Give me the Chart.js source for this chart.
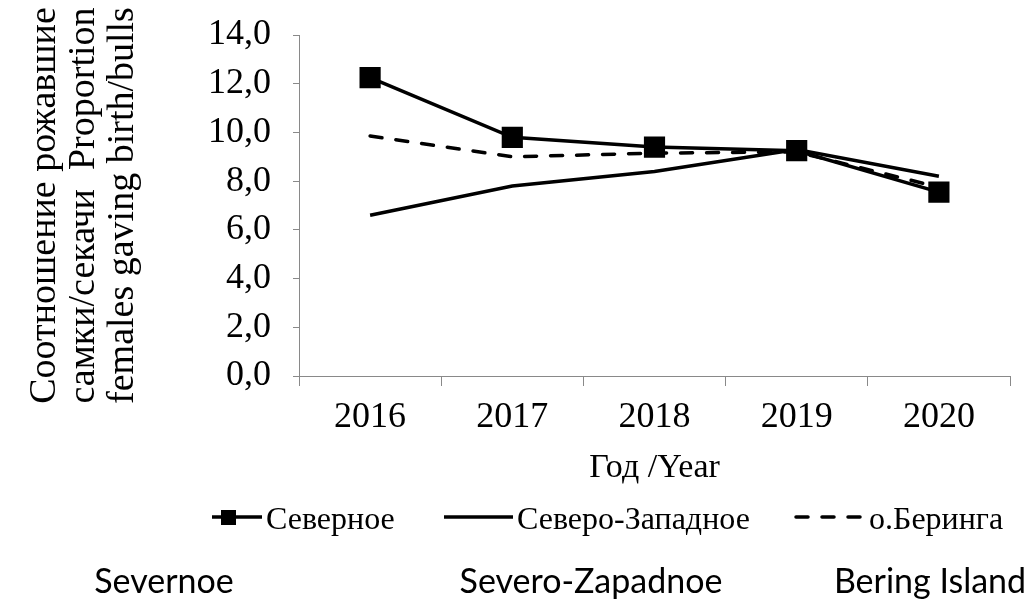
<!DOCTYPE html>
<html lang="ru">
<head>
  <meta charset="UTF-8" />
  <title>Соотношение рожавшие самки/секачи</title>
  <script src="https://cdn.jsdelivr.net/npm/chart.js"></script>
  <style>
    html, body { margin: 0; padding: 0; background: #fff; }
    #wrap { width: 1031px; height: 607px; position: relative; }
  </style>
</head>
<body>
  <div id="wrap"><canvas id="chart"></canvas></div>

  <script>
    // data
    const years = ['2016', '2017', '2018', '2019', '2020'];
    const severnoe = [12.25, 9.8, 9.4, 9.25, 7.55];
    const severoZapadnoe = [6.6, 7.8, 8.4, 9.3, 8.2];
    const beringa = [9.85, 9.0, 9.15, 9.2, 7.75];
    const seriesLabels = ['Северное', 'Северо-Западное', 'о.Беринга'];
    const yTitle = ['Соотношение рожавшие', 'самки/секачи  Proportion', 'females gaving birth/bulls'];
    const xTitle = 'Год /Year';
    const bottomLabels = ['Severnoe', 'Severo-Zapadnoe', 'Bering Island'];

    const serif = "'Liberation Serif', 'Times New Roman', serif";
    const axisGray = '#898989';

    // legend row + english names under the chart
    const legendPos = [
      { x0: 212, x1: 262, tx: 266 },
      { x0: 444, x1: 513, tx: 517 },
      { x0: 794, x1: 866, tx: 869 }
    ];
    const bottomCenters = [164, 591, 930];

    const extraText = {
      id: 'extraText',
      afterDraw(chart) {
        const ctx = chart.ctx;
        const ly = 517;
        ctx.save();
        chart.data.datasets.forEach((ds, i) => {
          const p = legendPos[i];
          ctx.strokeStyle = ds.borderColor;
          ctx.lineWidth = ds.borderWidth;
          ctx.lineCap = ds.borderCapStyle || 'butt';
          ctx.setLineDash(ds.borderDash || []);
          ctx.beginPath();
          ctx.moveTo(p.x0 + (ds.borderDash ? 2 : 0), ly);
          ctx.lineTo(p.x1, ly);
          ctx.stroke();
          ctx.setLineDash([]);
          if (ds.pointRadius > 0) {
            ctx.fillStyle = ds.pointBackgroundColor;
            ctx.fillRect(p.x0 + 9, ly - 7, 15, 15);
          }
          ctx.fillStyle = '#000';
          ctx.font = "32px " + serif;
          ctx.textAlign = 'left';
          ctx.textBaseline = 'middle';
          ctx.fillText(ds.label, p.tx, ly + 4);
        });

        ctx.font = "34px Lato, 'Open Sans', sans-serif";
        ctx.textAlign = 'center';
        ctx.textBaseline = 'middle';
        bottomLabels.forEach((t, i) => ctx.fillText(t, bottomCenters[i], 582));
        ctx.restore();
      }
    };

    new Chart(document.getElementById('chart').getContext('2d'), {
      type: 'line',
      data: {
        labels: years,
        datasets: [
          {
            label: seriesLabels[0],
            data: severnoe,
            borderColor: '#000',
            borderWidth: 3.5,
            pointStyle: 'rect',
            pointRadius: 12.5,
            pointBackgroundColor: '#000',
            pointBorderColor: '#000',
            tension: 0
          },
          {
            label: seriesLabels[1],
            data: severoZapadnoe,
            borderColor: '#000',
            borderWidth: 3.5,
            pointRadius: 0,
            tension: 0
          },
          {
            label: seriesLabels[2],
            data: beringa,
            borderColor: '#000',
            borderWidth: 3.5,
            borderDash: [12, 14],
            borderCapStyle: 'round',
            pointRadius: 0,
            tension: 0
          }
        ]
      },
      options: {
        responsive: true,
        maintainAspectRatio: false,
        animation: false,
        layout: { padding: { top: 35, right: 21, bottom: 111, left: 0 } },
        plugins: {
          legend: { display: false },
          tooltip: { enabled: false }
        },
        scales: {
          x: {
            offset: true,
            grid: { offset: true, drawOnChartArea: false, tickLength: 10, color: axisGray },
            border: { color: axisGray, width: 1 },
            ticks: { color: '#000', font: { family: serif, size: 36 }, padding: 10 },
            title: {
              display: true, text: xTitle, color: '#000',
              font: { family: serif, size: 34 }, padding: { top: 0, bottom: 8 }
            },
            afterFit(scale) { scale.height = 120; }
          },
          y: {
            min: 0,
            max: 14,
            ticks: {
              stepSize: 2,
              color: '#000',
              font: { family: serif, size: 36 },
              padding: 22,
              callback: v => v.toFixed(1).replace('.', ',')
            },
            grid: { drawOnChartArea: false, tickLength: 6, color: axisGray },
            border: { color: axisGray, width: 1 },
            title: {
              display: true, text: yTitle, color: '#000',
              font: { family: serif, size: 38, lineHeight: 1.02 },
              padding: { top: 26, bottom: 0 }
            },
            afterFit(scale) {
              scale.width = 299;
              scale.paddingTop = 0;
              scale.paddingBottom = 0;
            }
          }
        }
      },
      plugins: [extraText]
    });
  </script>
</body>
</html>
